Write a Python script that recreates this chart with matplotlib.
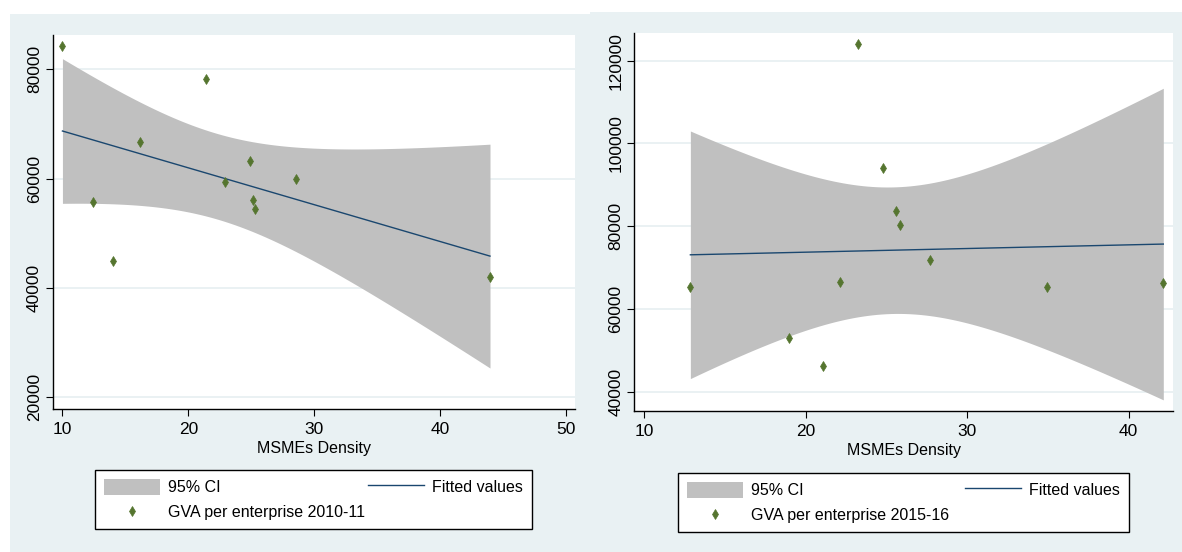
import numpy as np
import matplotlib.pyplot as plt
from matplotlib.patches import Patch, Rectangle
from matplotlib.lines import Line2D

# MSMEs density vs GVA per enterprise (one point per state)
density_1011 = [10.0, 12.43, 14.04, 16.13, 21.37, 22.88, 24.89, 25.13, 25.31, 28.52, 43.95]
gva_1011 = [84200, 55680, 44840, 66780, 78220, 59450, 63240, 56150, 54450, 59950, 41960]

density_1516 = [12.87, 18.97, 21.10, 22.12, 23.22, 24.79, 25.58, 25.84, 27.70, 34.95, 42.14]
gva_1516 = [65230, 52870, 46190, 66510, 123930, 94140, 83610, 80410, 71900, 65230, 66190]

xticks_1011 = [10, 20, 30, 40, 50]
yticks_1011 = [20000, 40000, 60000, 80000]
xticks_1516 = [10, 20, 30, 40]
yticks_1516 = [40000, 60000, 80000, 100000, 120000]

T_975_DF9 = 2.262  # two-sided 95% t value, n - 2 = 9

BG = "#e9f1f3"
GRID = "#e6eff1"
CI_GRAY = "#c0c0c0"
NAVY = "#1a476f"
GREEN = "#55752f"

plt.rcParams["font.family"] = ["Liberation Sans", "DejaVu Sans"]


def linear_fit_ci(x, y, n=100):
    x = np.asarray(x, float)
    y = np.asarray(y, float)
    slope, icept = np.polyfit(x, y, 1)
    resid = y - (icept + slope * x)
    s = np.sqrt(np.sum(resid ** 2) / (len(x) - 2))
    xs = np.linspace(x.min(), x.max(), n)
    fit = icept + slope * xs
    se = s * np.sqrt(1 / len(x) + (xs - x.mean()) ** 2 / np.sum((x - x.mean()) ** 2))
    return xs, fit, fit - T_975_DF9 * se, fit + T_975_DF9 * se


def draw_panel(ax, x, y, xticks, yticks, xlim, ylim, label):
    xs, fit, lo, hi = linear_fit_ci(x, y)
    ax.fill_between(xs, lo, hi, color=CI_GRAY, lw=0, zorder=1)
    ax.plot(xs, fit, color=NAVY, lw=1.0, zorder=2)
    ax.plot(x, y, ls="none", marker="d", ms=5.5, mew=0.5, color=GREEN, zorder=3)

    ax.set_xlim(*xlim)
    ax.set_ylim(*ylim)
    ax.set_xticks(xticks)
    ax.set_yticks(yticks)
    ax.set_yticklabels([str(v) for v in yticks], rotation=90, va="center", fontsize=12.5)
    ax.tick_params(axis="x", labelsize=12.5, length=5, pad=4)
    ax.tick_params(axis="y", length=5, pad=3)
    ax.grid(axis="y", color=GRID, lw=1.2)
    ax.set_axisbelow(True)
    for side in ("top", "right"):
        ax.spines[side].set_visible(False)
    for side in ("left", "bottom"):
        ax.spines[side].set_linewidth(1.0)
    ax.set_xlabel("MSMEs Density", fontsize=11.5, labelpad=3)

    handles = [
        Patch(facecolor=CI_GRAY, edgecolor="none"),
        Line2D([], [], ls="none", marker="d", ms=5.5, mew=0.5, color=GREEN),
        Line2D([], [], color=NAVY, lw=1.0),
    ]
    labels = ["95% CI", label, "Fitted values"]
    return handles, labels


fig = plt.figure(figsize=(11.82, 5.52), dpi=100, facecolor="white")
W, H = 1182, 552

# panel backgrounds
fig.patches.append(Rectangle((10 / W, 0), 580 / W, 1 - 14 / H, transform=fig.transFigure,
                             facecolor=BG, edgecolor="none", zorder=-10))
fig.patches.append(Rectangle((590 / W, 0), 592 / W, 1 - 12 / H, transform=fig.transFigure,
                             facecolor=BG, edgecolor="none", zorder=-10))

ax1 = fig.add_axes([53 / W, 1 - 409.3 / H, 522 / W, 374.6 / H])
ax2 = fig.add_axes([634.3 / W, 1 - 411.3 / H, 538.7 / W, 378.3 / H])

h1, l1 = draw_panel(ax1, density_1011, gva_1011, xticks_1011, yticks_1011,
                    (9.25, 50.7), (17750, 86340), "GVA per enterprise 2010-11")
h2, l2 = draw_panel(ax2, density_1516, gva_1516, xticks_1516, yticks_1516,
                    (9.4, 42.74), (35280, 126680), "GVA per enterprise 2015-16")

for ax, h, l, (x0, x1, ytop) in ((ax1, h1, l1, (95, 532, 470)),
                                  (ax2, h2, l2, (678, 1129, 473))):
    leg = ax.legend(h, l, ncol=2, mode="expand", loc="upper left",
                    bbox_to_anchor=(x0 / W, 1 - ytop / H - 0.01, (x1 - x0) / W, 0.01),
                    bbox_transform=fig.transFigure, fontsize=11.5, frameon=True,
                    fancybox=False, edgecolor="black", framealpha=1,
                    handlelength=3.5, handleheight=1.15, handletextpad=0.5,
                    labelspacing=0.55, borderpad=0.55, borderaxespad=0)
    leg.get_frame().set_linewidth(1.0)

fig.savefig("out.png", dpi=100, facecolor="white")
